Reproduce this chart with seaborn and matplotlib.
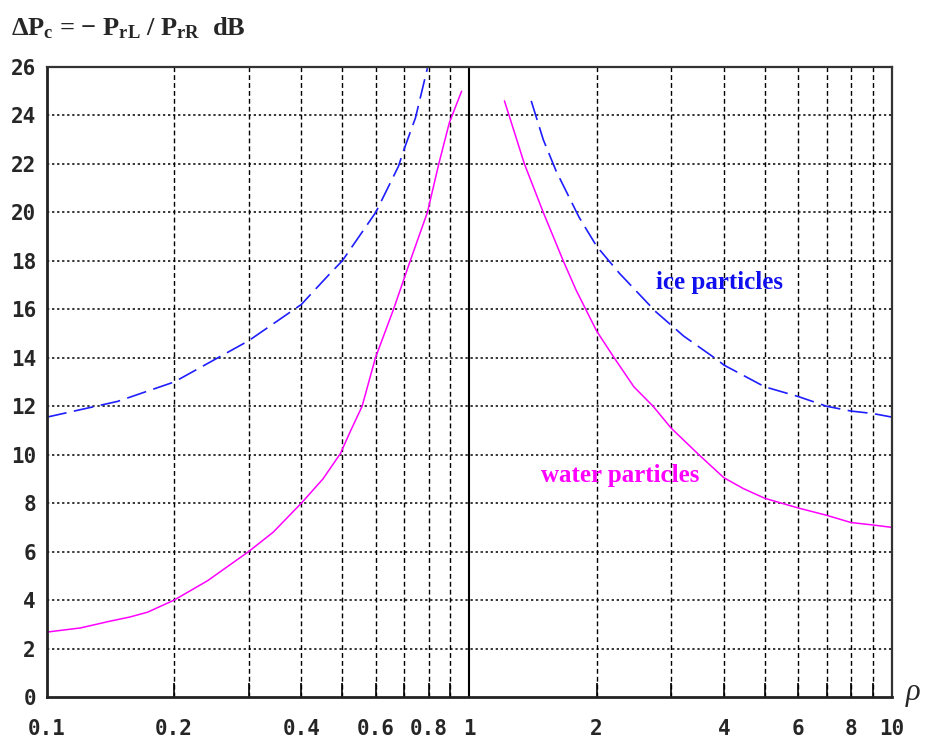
import numpy as np
import pandas as pd
import matplotlib
matplotlib.use("Agg")
import matplotlib.pyplot as plt
from matplotlib.ticker import FixedLocator, NullFormatter
import seaborn as sns

# valores (rho, delta Pc em dB)
ice_left_rho = [0.1, 0.147, 0.2, 0.3, 0.4, 0.469, 0.5, 0.6, 0.679, 0.7, 0.745, 0.795]
ice_left_dp = [11.55, 12.2, 13.0, 14.7, 16.2, 17.5, 18.0, 20.0, 21.9, 22.6, 23.9, 25.95]

ice_right_rho = [1.40, 1.495, 1.604, 1.817, 2.0, 2.26, 2.76, 3.0, 3.21, 3.87, 4.0,
                 5.0, 6.0, 7.0, 8.0, 9.0, 10.0]
ice_right_dp = [24.6, 23.0, 21.7, 19.8, 18.6, 17.5, 15.9, 15.35, 14.9, 13.9, 13.7,
                12.8, 12.4, 12.0, 11.8, 11.7, 11.55]

water_left_rho = [0.1, 0.12, 0.141, 0.157, 0.173, 0.2, 0.24, 0.3, 0.343, 0.4, 0.45,
                  0.495, 0.522, 0.557, 0.599, 0.661, 0.724, 0.795, 0.846, 0.896, 0.958]
water_left_dp = [2.68, 2.85, 3.13, 3.3, 3.5, 4.0, 4.8, 6.0, 6.8, 8.0, 9.0,
                 10.05, 10.95, 12.0, 14.0, 16.0, 18.0, 20.0, 22.0, 23.7, 25.0]

water_right_rho = [1.21, 1.349, 1.495, 1.667, 1.787, 2.0, 2.2, 2.45, 2.72, 3.0, 3.49,
                   4.0, 4.45, 5.0, 6.0, 7.0, 8.0, 9.0, 10.0]
water_right_dp = [24.6, 22.0, 20.0, 18.0, 16.8, 15.1, 14.0, 12.8, 12.0, 11.1, 10.0,
                  9.05, 8.6, 8.2, 7.8, 7.5, 7.2, 7.1, 7.0]

x_tick_labels = ['0.1', '0.2', '0.4', '0.6', '0.8', '1', '2', '4', '6', '8', '10']
x_tick_values = [0.1, 0.2, 0.4, 0.6, 0.8, 1, 2, 4, 6, 8, 10]
y_ticks = list(range(0, 27, 2))

sns.set_style("white")
plt.rcParams['mathtext.fontset'] = 'custom'
plt.rcParams['mathtext.rm'] = 'Liberation Serif:bold'
plt.rcParams['mathtext.bf'] = 'Liberation Serif:bold'
plt.rcParams['mathtext.it'] = 'Liberation Serif:italic'

fig = plt.figure(figsize=(9.25, 7.4), dpi=100)
ax = fig.add_axes([0.0508, 0.0581, 0.9135, 0.8514])

# curvas - cada ramo separado
ice_color = '#1e1eff'
water_color = '#ff00ff'
for rho, dp in [(ice_left_rho, ice_left_dp), (ice_right_rho, ice_right_dp)]:
    df = pd.DataFrame({'rho': rho, 'dp': dp})
    sns.lineplot(data=df, x='rho', y='dp', ax=ax, color=ice_color, lw=1.2,
                 sort=False, estimator=None).lines[-1].set_dashes((12, 4.5))
for rho, dp in [(water_left_rho, water_left_dp), (water_right_rho, water_right_dp)]:
    df = pd.DataFrame({'rho': rho, 'dp': dp})
    sns.lineplot(data=df, x='rho', y='dp', ax=ax, color=water_color, lw=1.1,
                 sort=False, estimator=None)

ax.set_xscale('log')
ax.set_xlim(0.1, 10)
ax.set_ylim(0, 26)

# grade: horizontais pontilhadas, verticais tracejadas
minor_x = [0.2, 0.3, 0.4, 0.5, 0.6, 0.7, 0.8, 0.9, 2, 3, 4, 5, 6, 7, 8, 9]
for v in range(2, 26, 2):
    ax.axhline(v, color='black', lw=1.1, ls=(0, (1.5, 1.8)), zorder=0)
for v in minor_x:
    ax.axvline(v, color='black', lw=1.0, ls=(0, (3.5, 2.2)), zorder=0)
ax.axvline(1, color='black', lw=1.5, zorder=1)

ax.xaxis.set_major_locator(FixedLocator(minor_x))
ax.xaxis.set_major_formatter(NullFormatter())
ax.xaxis.set_minor_locator(FixedLocator([]))
ax.tick_params(axis='x', which='major', direction='in', length=10, width=1.2,
               color='black', bottom=True, top=False)
ax.set_yticks(y_ticks)
ax.set_yticklabels([str(v) for v in y_ticks], fontfamily='DejaVu Sans Mono',
                   fontweight='bold', fontsize=15)
ax.tick_params(axis='y', length=0, pad=8)

# rótulos do eixo x como texto
for v, lab in zip(x_tick_values, x_tick_labels):
    ax.text(v, -0.035, lab, transform=ax.get_xaxis_transform(), ha='center', va='top',
            fontfamily='DejaVu Sans Mono', fontweight='bold', fontsize=15)

ax.set_xlabel('')
ax.set_ylabel('')
for side in ['left', 'bottom']:
    ax.spines[side].set_linewidth(2.0)
    ax.spines[side].set_color('#222222')
for side in ['top', 'right']:
    ax.spines[side].set_linewidth(1.6)
    ax.spines[side].set_color('#333333')

ax.text(2.76, 17.1, 'ice particles', color='#1010ee', fontfamily='Liberation Serif',
        fontweight='bold', fontsize=18, va='center', ha='left')
ax.text(1.48, 9.15, 'water particles', color=water_color, fontfamily='Liberation Serif',
        fontweight='bold', fontsize=18, va='center', ha='left')

fig.text(0.012, 0.962, r'$\Delta$P$_{\mathrm{c}}$ = $-$ P$_{\mathrm{rL}}$ / P$_{\mathrm{rR}}$  dB',
         fontfamily='Liberation Serif', fontweight='bold', fontsize=19, va='center', ha='left')
fig.text(0.987, 0.062, r'$\rho$', fontsize=22, va='center', ha='center')

fig.savefig('out.png', dpi=100)
